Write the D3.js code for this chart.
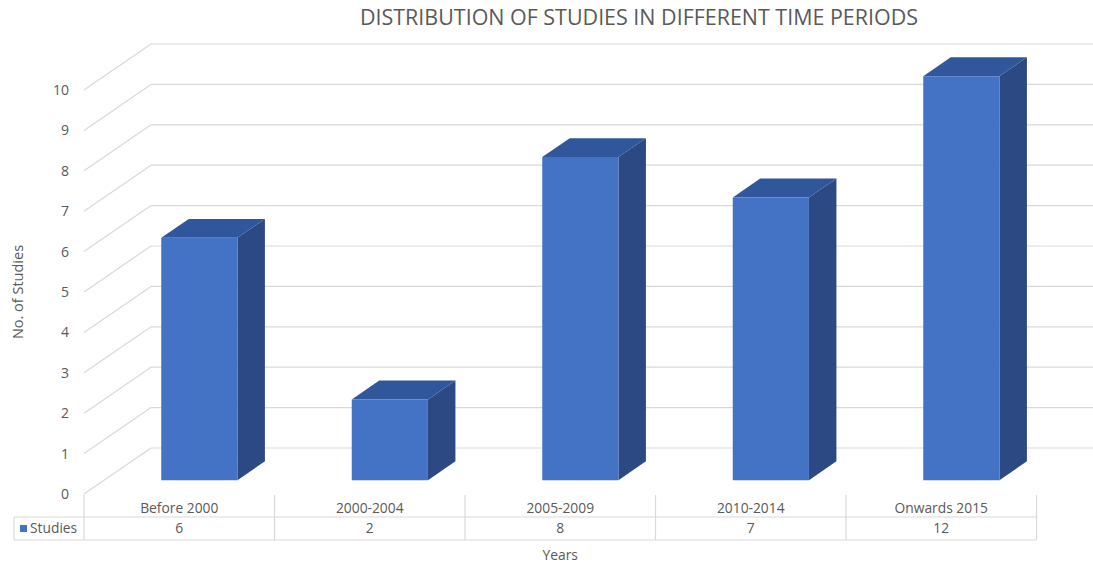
<!DOCTYPE html>
<html>
<head>
<meta charset="utf-8">
<script src="https://cdn.jsdelivr.net/npm/d3@7"></script>
<style>
  html, body { margin: 0; padding: 0; background: #ffffff; }
  svg { display: block; }
  text { font-family: "Open Sans", "DejaVu Sans", sans-serif; fill: #595959; }
</style>
</head>
<body>
<svg id="chart" width="1093" height="565"></svg>
<script>
// Data
const categories = ["Before 2000", "2000-2004", "2005-2009", "2010-2014", "Onwards 2015"];
const studies = [6, 2, 8, 7, 12];
const yTicks = [0, 1, 2, 3, 4, 5, 6, 7, 8, 9, 10];
const seriesName = "Studies";
const chartTitle = "DISTRIBUTION OF STUDIES IN DIFFERENT TIME PERIODS";
const xTitle = "Years";
const yTitle = "No. of Studies";

const W = 1093, H = 565;
const svg = d3.select("#chart");

// Plot floor (front edge) and oblique depth offset
const left = 84, right = 1036.5;
const floorY = 494, topY = 90;
const DX = 67, DY = 46;           // offset from front plane to back wall
const t0 = 0.30, t1 = 0.71;       // bar depth span
const barFrac = 0.4;

const x = d3.scaleBand().domain(categories).range([left, right]);
const y = d3.scaleLinear().domain([0, 10]).range([floorY, topY]);
const yMax = y.domain()[1];

// project (screen x on front plane, value, depth) to screen point
const P = (px, v, t) => [px + t * DX, y(v) - t * DY];

const grid = "#d9d9d9";
const labelSize = "13.8px";

// Back wall gridlines
svg.append("g").selectAll("line").data(yTicks).join("line")
  .attr("x1", d => P(left, d, 1)[0]).attr("x2", W + 20)
  .attr("y1", d => P(left, d, 1)[1]).attr("y2", d => P(left, d, 1)[1])
  .attr("stroke", grid).attr("stroke-width", 1.2);

// Side wall gridlines
svg.append("g").selectAll("line").data(yTicks).join("line")
  .attr("x1", d => P(left, d, 0)[0]).attr("y1", d => P(left, d, 0)[1])
  .attr("x2", d => P(left, d, 1)[0]).attr("y2", d => P(left, d, 1)[1])
  .attr("stroke", grid).attr("stroke-width", 1.2);

// Y tick labels
svg.append("g").selectAll("text").data(yTicks).join("text")
  .attr("x", 69).attr("y", d => y(d))
  .attr("dy", "0.36em")
  .attr("text-anchor", "end")
  .style("font-size", "14px")
  .text(d => d);

// 3D bars (values beyond the axis maximum are cut at the top of the axis)
const bars = categories.map((c, i) => {
  const bw = x.bandwidth() * barFrac;
  const x0 = x(c) + (x.bandwidth() - bw) / 2;
  return { c, v: Math.min(studies[i], yMax), x0, x1: x0 + bw };
});
const poly = pts => pts.map(p => p.join(",")).join(" ");
const gb = svg.append("g");
bars.forEach(b => {
  const ftl = P(b.x0, b.v, t0), ftr = P(b.x1, b.v, t0);
  const fbl = P(b.x0, 0, t0), fbr = P(b.x1, 0, t0);
  const btl = P(b.x0, b.v, t1), btr = P(b.x1, b.v, t1);
  const bbr = P(b.x1, 0, t1);
  gb.append("polygon").attr("points", poly([ftr, btr, bbr, fbr])).attr("fill", "#2c4983");
  gb.append("polygon").attr("points", poly([ftl, ftr, btr, btl])).attr("fill", "#30569b");
  gb.append("polygon").attr("points", poly([ftl, ftr, fbr, fbl])).attr("fill", "#4472c4");
});

// Data table
const tTop = 495, tMid = 517, tBot = 540, tLeft = 14;
const tb = svg.append("g").attr("stroke", grid).attr("stroke-width", 1.2);
tb.append("line").attr("x1", tLeft).attr("x2", right).attr("y1", tMid).attr("y2", tMid);
tb.append("line").attr("x1", tLeft).attr("x2", right).attr("y1", tBot).attr("y2", tBot);
tb.append("line").attr("x1", tLeft).attr("x2", tLeft).attr("y1", tMid).attr("y2", tBot);
const edges = categories.map(c => x(c)).concat([right]);
tb.selectAll("line.v").data(edges).join("line").attr("class", "v")
  .attr("x1", d => d).attr("x2", d => d).attr("y1", tTop).attr("y2", tBot);

svg.append("g").selectAll("text").data(categories).join("text")
  .attr("x", d => x(d) + x.bandwidth() / 2).attr("y", 508)
  .attr("dy", "0.36em").attr("text-anchor", "middle")
  .style("font-size", labelSize).text(d => d);

svg.append("g").selectAll("text").data(studies).join("text")
  .attr("x", (d, i) => x(categories[i]) + x.bandwidth() / 2).attr("y", 528.5)
  .attr("dy", "0.36em").attr("text-anchor", "middle")
  .style("font-size", labelSize).text(d => d);

// Legend key in the table
svg.append("rect").attr("x", 20).attr("y", 525).attr("width", 7).attr("height", 7).attr("fill", "#4472c4");
svg.append("text").attr("x", 30).attr("y", 528.5).attr("dy", "0.36em")
  .style("font-size", labelSize).text(seriesName);

// Axis titles
svg.append("text").attr("x", (left + right) / 2).attr("y", 555).attr("dy", "0.36em")
  .attr("text-anchor", "middle").style("font-size", labelSize).text(xTitle);
svg.append("text").attr("transform", "translate(18,292) rotate(-90)")
  .attr("dy", "0.36em").attr("text-anchor", "middle")
  .style("font-size", "14.5px").text(yTitle);

// Chart title
svg.append("text").attr("x", 639).attr("y", 17).attr("dy", "0.36em")
  .attr("text-anchor", "middle")
  .attr("textLength", 558).attr("lengthAdjust", "spacingAndGlyphs")
  .style("font-size", "22px")
  .text(chartTitle);
</script>
</body>
</html>
